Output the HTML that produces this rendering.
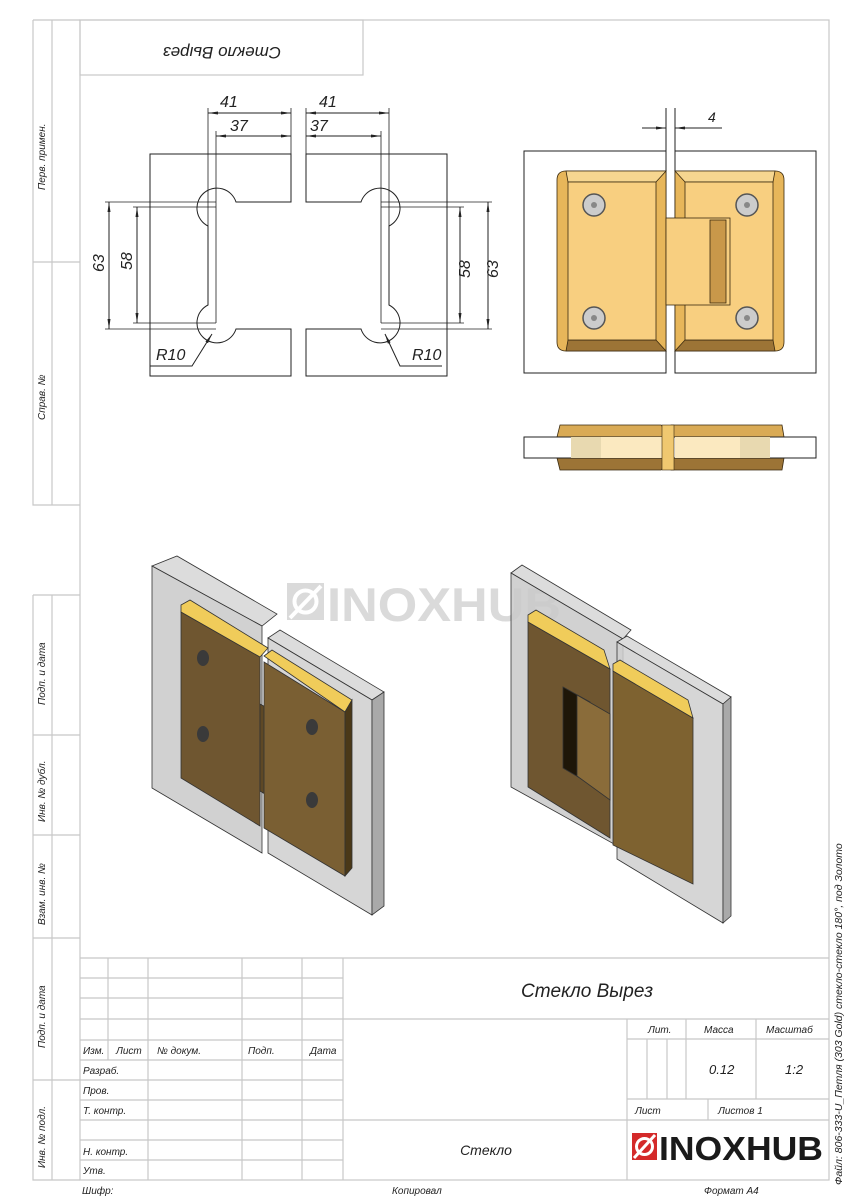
<!DOCTYPE html>
<html><head><meta charset="utf-8"><style>
html,body{margin:0;padding:0;background:#fff}
svg{display:block}
text{font-family:"Liberation Sans",sans-serif;font-style:italic;fill:#222}
.f{stroke:#c8c8c8;stroke-width:1.2;fill:none}
.d{stroke:#222;stroke-width:1;fill:none}
.n{font-style:normal}
</style></head><body>
<svg width="848" height="1200" viewBox="0 0 848 1200" xmlns="http://www.w3.org/2000/svg">
<defs>
<marker id="a" markerWidth="10" markerHeight="6" refX="10" refY="3" orient="auto-start-reverse" markerUnits="userSpaceOnUse"><path d="M0,1.5 L10,3 L0,4.5z" fill="#222"/></marker>
</defs>
<!-- frame -->
<rect x="80" y="20" width="749" height="1160" class="f"/>
<rect x="80" y="20" width="283" height="55" class="f"/>
<path class="f" d="M33,20 H80 M33,20 V505 H80 M52,20 V505 M33,262 H80"/>
<path class="f" d="M33,595 H80 M33,595 V1180 H80 M52,595 V1180 M33,735 H80 M33,835 H80 M33,938 H80 M33,1080 H80"/>
<g font-size="10">
<text transform="translate(45,190) rotate(-90)">Перв. примен.</text>
<text transform="translate(45,420) rotate(-90)">Справ. №</text>
<text transform="translate(45,705) rotate(-90)">Подп. и дата</text>
<text transform="translate(45,822) rotate(-90)">Инв. № дубл.</text>
<text transform="translate(45,925) rotate(-90)">Взам. инв. №</text>
<text transform="translate(45,1048) rotate(-90)">Подп. и дата</text>
<text transform="translate(45,1168) rotate(-90)">Инв. № подл.</text>
<text transform="translate(842,1185) rotate(-90)" font-size="10.5">Файл: 806-333-U_Петля (303 Gold) стекло-стекло 180°, под Золото</text>
</g>
<text transform="translate(222,47) rotate(180)" font-size="17" text-anchor="middle">Стекло Вырез</text>

<!-- title block -->
<path class="f" d="M80,958 H829 M80,978 H343 M80,998 H343 M80,1019 H829 M80,1040 H343 M627,1039 H829 M80,1060 H343 M80,1080 H343 M80,1100 H343 M627,1099 H829 M80,1120 H829 M80,1140 H343 M80,1160 H343"/>
<path class="f" d="M108,958 V1060 M148,958 V1180 M242,958 V1180 M302,958 V1180 M343,958 V1180 M627,1019 V1180 M647,1039 V1099 M667,1039 V1099 M686,1019 V1099 M756,1019 V1099 M708,1099 V1120"/>
<g font-size="10">
<text x="83" y="1054">Изм.</text><text x="116" y="1054">Лист</text><text x="157" y="1054">№ докум.</text><text x="248" y="1054">Подп.</text><text x="310" y="1054">Дата</text>
<text x="83" y="1074">Разраб.</text><text x="83" y="1094">Пров.</text><text x="83" y="1114">Т. контр.</text><text x="83" y="1155">Н. контр.</text><text x="83" y="1174">Утв.</text>
<text x="648" y="1033">Лит.</text><text x="704" y="1033">Масса</text><text x="766" y="1033">Масштаб</text>
<text x="635" y="1114">Лист</text><text x="718" y="1114">Листов 1</text>
<text x="82" y="1194">Шифр:</text><text x="392" y="1194">Копировал</text><text x="704" y="1194">Формат А4</text>
</g>
<text x="709" y="1074" font-size="13">0.12</text><text x="785" y="1074" font-size="13">1:2</text>
<text x="587" y="997" font-size="19" text-anchor="middle">Стекло Вырез</text>
<text x="486" y="1155" font-size="14" text-anchor="middle">Стекло</text>
<rect x="632" y="1133" width="25" height="27" fill="#d42a2a"/>
<circle cx="644.5" cy="1146.5" r="8" fill="none" stroke="#fff" stroke-width="3"/>
<path d="M634,1158 L655,1135" stroke="#fff" stroke-width="3"/>
<text x="659" y="1160" font-size="33" font-weight="bold" class="n" style="fill:#1a1a1a;font-style:normal" textLength="164" lengthAdjust="spacingAndGlyphs">INOXHUB</text>

<!-- left cutout drawings -->
<g class="d">
<path d="M291,154 H150 V376 H291 V329 H236 A20,20 0 1 1 208,305 V226 A20,20 0 1 1 236,202 H291 Z"/>
<path d="M306,154 H447 V376 H306 V329 H361 A20,20 0 1 0 389,305 V226 A20,20 0 1 0 361,202 H306 Z"/>
<path d="M208,108 V226 M216,131 V323 M291,108 V154 M389,108 V226 M381,131 V323 M306,108 V154" stroke-width="0.8"/>
<path d="M208,113 H291" marker-start="url(#a)" marker-end="url(#a)"/>
<path d="M216,136 H291" marker-start="url(#a)" marker-end="url(#a)"/>
<path d="M306,113 H389" marker-start="url(#a)" marker-end="url(#a)"/>
<path d="M306,136 H381" marker-start="url(#a)" marker-end="url(#a)"/>
<path d="M105,202 H216 M133,207 H216 M105,329 H216 M133,323 H216 M381,202 H492 M381,207 H464 M381,323 H464 M381,329 H492" stroke-width="0.8"/>
<path d="M109,202 V329" marker-start="url(#a)" marker-end="url(#a)"/>
<path d="M137,207 V323" marker-start="url(#a)" marker-end="url(#a)"/>
<path d="M460,207 V323" marker-start="url(#a)" marker-end="url(#a)"/>
<path d="M488,202 V329" marker-start="url(#a)" marker-end="url(#a)"/>
<path d="M150,366 H192 L212,334" marker-end="url(#a)"/>
<path d="M442,366 H400 L385,334" marker-end="url(#a)"/>
</g>
<g font-size="16">
<text x="220" y="107">41</text><text x="230" y="131">37</text>
<text x="319" y="107">41</text><text x="310" y="131">37</text>
<text transform="translate(104,272) rotate(-90)">63</text><text transform="translate(132,270) rotate(-90)">58</text>
<text transform="translate(470,278) rotate(-90)">58</text><text transform="translate(498,278) rotate(-90)">63</text>
<text x="156" y="360">R10</text><text x="412" y="360">R10</text>
</g>

<!-- top right view -->
<g class="d">
<rect x="524" y="151" width="142" height="222"/><rect x="675" y="151" width="141" height="222"/>
<path d="M666,108 V151 M675,108 V151"/>
<path d="M642,128 H666" marker-end="url(#a)"/>
<path d="M722,128 H675" marker-end="url(#a)"/>
</g>
<text x="708" y="122" font-size="14">4</text>
<g stroke="#3a2a10" stroke-width="0.8">
<path d="M566,171 H666 V351 H566 Q557,351 557,342 V180 Q557,171 566,171Z" fill="#e7b65a"/>
<path d="M566,171 H666 L656,182 H568 Z" fill="#f6d690"/>
<path d="M568,340 H656 L666,351 H566 Z" fill="#9c7436"/>
<rect x="568" y="182" width="88" height="158" fill="#f8cf80"/>
<path d="M675,171 H775 Q784,171 784,180 V342 Q784,351 775,351 H675Z" fill="#e7b65a"/>
<path d="M675,171 H775 L773,182 H685Z" fill="#f6d690"/>
<path d="M685,340 H773 L775,351 H675Z" fill="#9c7436"/>
<rect x="685" y="182" width="88" height="158" fill="#f8cf80"/>
<rect x="666" y="218" width="64" height="87" fill="#f8cf80"/>
<rect x="710" y="220" width="16" height="83" fill="#c9984a"/>
</g>
<g fill="#ccc" stroke="#555" stroke-width="1.5">
<circle cx="594" cy="205" r="11"/><circle cx="594" cy="318" r="11"/><circle cx="747" cy="205" r="11"/><circle cx="747" cy="318" r="11"/>
</g>
<g fill="#888"><circle cx="594" cy="205" r="3"/><circle cx="594" cy="318" r="3"/><circle cx="747" cy="205" r="3"/><circle cx="747" cy="318" r="3"/></g>
<!-- side view -->
<g stroke="#3a2a10" stroke-width="0.8">
<path d="M560,425 H661 L666,431 L671,425 H782 L784,437 H557Z" fill="#d9aa55"/>
<path d="M557,458 H784 L782,470 H671 L666,465 L661,470 H560Z" fill="#9c7436"/>
</g>
<rect x="524" y="437" width="292" height="21" fill="#fff" stroke="#222"/>
<rect x="571" y="437" width="30" height="21" fill="#e8d9b0"/><rect x="740" y="437" width="30" height="21" fill="#e8d9b0"/>
<rect x="601" y="437" width="65" height="21" fill="#fbe9c0"/><rect x="675" y="437" width="65" height="21" fill="#fbe9c0"/>
<rect x="662" y="425" width="12" height="45" fill="#f0c870" stroke="#3a2a10" stroke-width="0.6"/>

<!-- watermark -->
<g opacity="0.9">
<rect x="287" y="583" width="37" height="37" fill="#d6d6d6"/>
<circle cx="305.5" cy="601.5" r="11" fill="none" stroke="#fff" stroke-width="4"/>
<path d="M290,618 L321,586" stroke="#fff" stroke-width="4"/>
<text x="327" y="621" font-size="47" font-weight="bold" style="fill:#d6d6d6;font-style:normal" textLength="234" lengthAdjust="spacingAndGlyphs">INOXHUB</text>
</g>

<!-- iso left -->
<g stroke="#333" stroke-width="0.8">
<path d="M152,566 L177,556 L277,614 L262,626Z" fill="#dcdcdc"/>
<path d="M152,566 L262,626 L262,853 L152,788Z" fill="#c9c9c9" fill-opacity="0.85"/>
<path d="M268,638 L280,630 L384,692 L372,700Z" fill="#dcdcdc"/>
<path d="M268,638 L372,700 L372,915 L268,853Z" fill="#cfcfcf" fill-opacity="0.85"/>
<path d="M372,700 L384,692 L384,906 L372,915Z" fill="#a9a9a9"/>
<path d="M181,612 L260,657 L260,826 L181,778Z" fill="#6f5630"/>
<path d="M181,605 L190,600 L268,648 L260,657 L181,612Z" fill="#f0cc5a"/>
<path d="M260,704 L300,726 L300,816 L260,791Z" fill="#5e4825"/>
<path d="M264,662 L345,712 L345,876 L264,828Z" fill="#7a5f33"/>
<path d="M264,656 L272,650 L352,700 L345,712Z" fill="#f0cc5a"/>
<path d="M345,712 L352,700 L352,868 L345,876Z" fill="#4a3818"/>
</g>
<g fill="#3a3a3a"><ellipse cx="203" cy="658" rx="6" ry="8"/><ellipse cx="203" cy="734" rx="6" ry="8"/><ellipse cx="312" cy="727" rx="6" ry="8"/><ellipse cx="312" cy="800" rx="6" ry="8"/></g>
<!-- iso right -->
<g stroke="#333" stroke-width="0.8">
<path d="M511,573 L522,565 L631,630 L623,639Z" fill="#dcdcdc"/>
<path d="M511,573 L623,639 L623,849 L511,787Z" fill="#c9c9c9" fill-opacity="0.85"/>
<path d="M617,642 L627,636 L731,697 L723,704Z" fill="#dcdcdc"/>
<path d="M617,642 L723,704 L723,923 L617,859Z" fill="#cfcfcf" fill-opacity="0.85"/>
<path d="M723,704 L731,697 L731,916 L723,923Z" fill="#a9a9a9"/>
<path d="M528,622 L610,669 L610,838 L528,787Z" fill="#6f5630"/>
<path d="M528,615 L536,610 L604,650 L610,669 L528,622Z" fill="#f0cc5a"/>
<path d="M563,687 L590,702 L590,784 L563,768Z" fill="#1e1608"/>
<path d="M577,695 L610,714 L610,800 L577,776Z" fill="#8a6c3a"/>
<path d="M613,671 L693,718 L693,884 L613,845Z" fill="#7e6230"/>
<path d="M613,664 L620,660 L688,700 L693,718 L613,671Z" fill="#f0cc5a"/>
</g>
</svg>
</body></html>
